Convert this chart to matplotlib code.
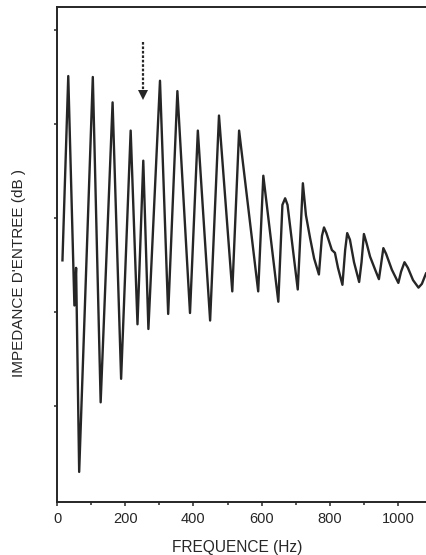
import matplotlib
matplotlib.use('Agg')
import matplotlib.pyplot as plt

# input impedance curve (Hz, dB on an arbitrary scale)
freq = [16, 33, 51, 56, 65, 105, 128, 163, 188, 216, 236, 253, 268,
        302, 326, 353, 390, 413, 449, 475, 514, 534, 590, 605, 649,
        661, 669, 676, 706, 721, 730, 742, 754, 768, 777, 783, 790,
        806, 815, 824, 837, 845, 851, 859, 871, 886, 893, 900, 908,
        918, 933, 944, 950, 957, 965, 982, 1001, 1009, 1019, 1029, 1044,
        1060, 1070, 1082]
level = [25.5, 45.1, 20.7, 24.7, 3.0, 45.0, 10.4, 42.3, 12.9, 39.3, 18.7, 36.1, 18.2,
         44.6, 19.8, 43.5, 19.9, 39.3, 19.1, 40.9, 22.2, 39.3, 22.2, 34.5, 21.1,
         31.4, 32.1, 31.4, 22.4, 33.7, 30.3, 27.9, 25.7, 24.0, 28.1, 29.0, 28.4,
         26.6, 26.3, 24.7, 22.9, 26.6, 28.4, 27.7, 25.3, 23.2, 25.3, 28.3, 27.3,
         25.9, 24.5, 23.5, 25.0, 26.8, 26.2, 24.5, 23.1, 24.3, 25.3, 24.7, 23.4,
         22.6, 23.0, 24.1]

x_ticks = [0, 200, 400, 600, 800, 1000]
x_minor = [100, 300, 500, 700, 900]
y_ticks = [10, 20, 30, 40, 50]

arrow_freq = 253
arrow_top, arrow_tip = 48.7, 42.6

plt.rcParams['font.family'] = ['Liberation Sans', 'DejaVu Sans']
ink = '#262626'

fig = plt.figure(figsize=(4.27, 5.55), dpi=100)
ax = fig.add_axes([0.1335, 0.0955, 0.8665, 0.892])

ax.plot(freq, level, color=ink, lw=1.7, solid_joinstyle='round')

# dashed arrow marking the note
ax.plot([arrow_freq, arrow_freq], [arrow_top, arrow_tip + 0.8], color=ink,
        lw=1.6, ls=(0, (1.2, 0.8)))
ax.plot([arrow_freq], [arrow_tip + 0.5], marker='v', color=ink, ms=6.5, mew=0)

ax.set_xlim(0, 1085)
ax.set_ylim(-0.2, 52.45)
ax.set_xticks(x_ticks)
ax.set_xticks(x_minor, minor=True)
ax.set_yticks(y_ticks)
ax.set_yticklabels([])

ax.tick_params(axis='both', which='both', direction='out', color=ink, width=1.1)
ax.tick_params(axis='x', which='major', length=3, labelsize=10.5, labelcolor=ink, pad=4)
ax.tick_params(axis='x', which='minor', length=2.5)
ax.tick_params(axis='y', length=2.5)

for side in ['left', 'bottom', 'top']:
    ax.spines[side].set_color(ink)
    ax.spines[side].set_linewidth(1.4)
ax.spines['right'].set_visible(False)

fig.text(0.045, 0.508, "IMPEDANCE D'ENTREE (dB )", rotation=90, ha='center',
         va='center', fontsize=11, color=ink)
fig.text(0.555, 0.0144, 'FREQUENCE (Hz)', ha='center', va='center',
         fontsize=11.2, color=ink)

fig.savefig('out.png', dpi=100)
